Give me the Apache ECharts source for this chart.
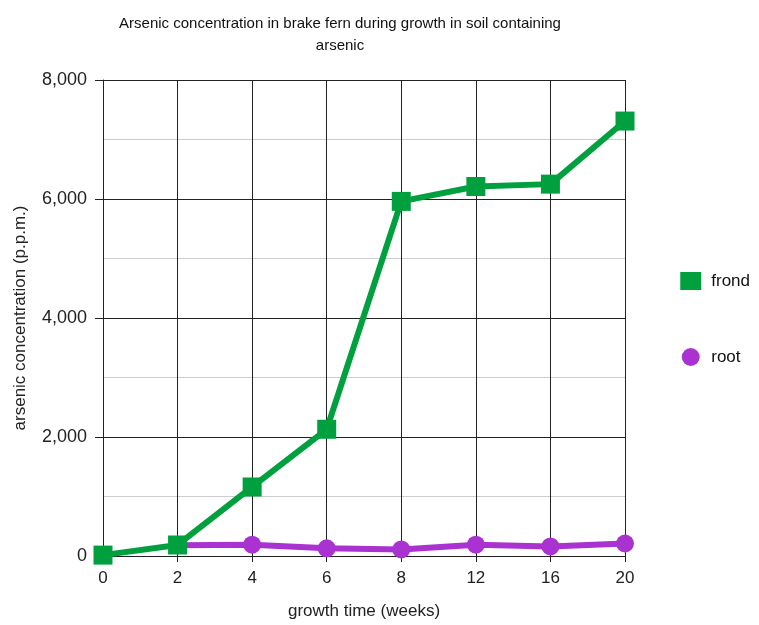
<!DOCTYPE html>
<html>
<head>
<meta charset="utf-8">
<script src="https://cdn.jsdelivr.net/npm/echarts@6/dist/echarts.min.js"></script>
<style>html,body{margin:0;padding:0;background:#fff}#c{width:759px;height:625px}</style>
</head>
<body>
<div id="c"></div>
<script>
const categories = ['0','2','4','6','8','12','16','20'];
const frond = [15, 185, 1160, 2130, 5960, 6210, 6250, 7310];
const root = [null, 180, 190, 130, 110, 190, 160, 210];
const yTicks = [0, 2000, 4000, 6000, 8000];

const FONT = '"Liberation Sans", Arial, sans-serif';
const chart = echarts.init(document.getElementById('c'));
chart.setOption({
  animation: false,
  backgroundColor: '#fff',
  title: {
    text: 'Arsenic concentration in brake fern during growth in soil containing\narsenic',
    left: 335, top: 8, textAlign: 'center',
    textStyle: {fontFamily: FONT, fontSize: 15, fontWeight: 'normal', color: '#111', lineHeight: 22}
  },
  legend: {
    orient: 'vertical', right: 4, top: 267,
    itemGap: 58, itemWidth: 21, itemHeight: 18,
    textStyle: {fontFamily: FONT, fontSize: 17, color: '#111', padding: [0, 0, 0, 5]},
    data: [{name: 'frond', icon: 'rect'}, {name: 'root', icon: 'circle'}]
  },
  grid: {left: 103, right: 134, top: 80, bottom: 69},
  xAxis: {
    type: 'category', data: categories, boundaryGap: false,
    name: 'growth time (weeks)', nameLocation: 'middle', nameGap: 47,
    nameTextStyle: {fontFamily: FONT, fontSize: 17, color: '#222'},
    axisLine: {lineStyle: {color: '#222', width: 1}},
    axisTick: {show: true, length: 6, lineStyle: {color: '#222'}},
    axisLabel: {fontFamily: FONT, fontSize: 17, color: '#222', margin: 14},
    splitLine: {show: true, lineStyle: {color: '#222', width: 1}}
  },
  yAxis: {
    type: 'value', min: 0, max: 8000, interval: 2000,
    name: 'arsenic concentration (p.p.m.)', nameLocation: 'middle', nameGap: 74,
    nameTextStyle: {fontFamily: FONT, fontSize: 17, color: '#222'},
    axisLine: {show: true, lineStyle: {color: '#222', width: 1}},
    axisTick: {show: true, length: 8, lineStyle: {color: '#222'}},
    axisLabel: {fontFamily: FONT, fontSize: 18, color: '#222', margin: 16,
      formatter: v => yTicks.includes(v) ? v.toLocaleString('en-US') : ''},
    splitLine: {show: true, lineStyle: {color: '#222', width: 1}},
    minorTick: {show: false, splitNumber: 2},
    minorSplitLine: {show: true, lineStyle: {color: '#ccc', width: 1}}
  },
  series: [
    {name: 'root', type: 'line', data: root, z: 3,
      symbol: 'circle', symbolSize: 18, showAllSymbol: true,
      itemStyle: {color: '#a932d0'}, lineStyle: {color: '#a932d0', width: 6}},
    {name: 'frond', type: 'line', data: frond, z: 4,
      symbol: 'rect', symbolSize: 19, showAllSymbol: true,
      itemStyle: {color: '#00a03e'}, lineStyle: {color: '#00a03e', width: 6}}
  ]
});
</script>
</body>
</html>
